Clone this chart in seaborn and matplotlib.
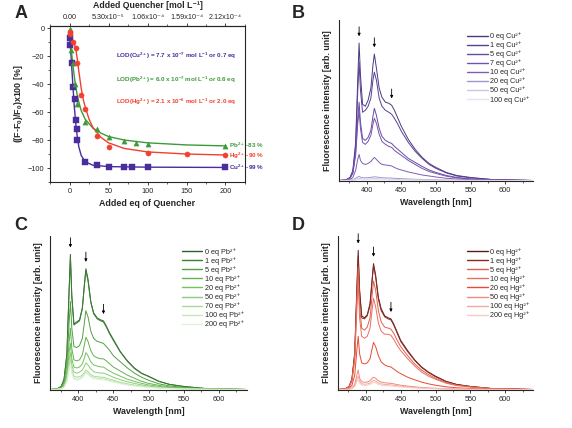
import numpy as np
import pandas as pd
import seaborn as sns
import matplotlib.pyplot as plt
from matplotlib.ticker import MultipleLocator

# ---- panel A: quenching vs added equivalents ----
cu_eq = [0, 1, 3, 5, 7, 8, 9, 10, 20, 35, 50, 70, 80, 100, 200]
cu_pct = [-12, -7, -25, -42, -51, -66, -72, -80, -96, -98, -99, -99.3, -99.3, -99.4, -99.5]
pb_eq = [0, 2, 4, 7, 10, 20, 35, 50, 70, 85, 100, 200]
pb_pct = [-1, -16, -25, -40, -54, -67, -72, -78, -81, -82, -83, -84]
hg_eq = [0, 1, 4, 8, 10, 15, 20, 35, 50, 100, 150, 200]
hg_pct = [-3, -4, -10, -14, -25, -48, -58, -77, -85, -89, -90, -90.5]

# fitted curves
cu_fit_eq = [0, 2, 4, 6, 8, 10, 12, 15, 20, 30, 50, 100, 200]
cu_fit = [-5, -20, -38, -55, -68, -78, -85, -91, -95.5, -98, -99, -99.4, -99.6]
pb_fit_eq = [0, 2, 4, 6, 8, 10, 12, 15, 20, 30, 40, 50, 70, 100, 150, 200]
pb_fit = [-3, -14, -25, -34, -42, -48, -53, -59, -65, -71.5, -75, -77.5, -80, -82, -83.5, -84.2]
hg_fit_eq = [0, 3, 6, 8, 10, 12, 15, 18, 20, 25, 30, 40, 50, 70, 100, 150, 200]
hg_fit = [-6, -8, -11, -15, -22, -31, -43, -52, -56, -65, -71, -78, -82, -86, -88.5, -90, -90.7]

top_ticks_eq = [0, 50, 100, 150, 200]
top_tick_labels = ['0.00', '5.30x10⁻⁵', '1.06x10⁻⁴', '1.59x10⁻⁴', '2.12x10⁻⁴']

# ---- spectra (B, C, D) ----
wl = [360, 370, 376, 380, 384, 387, 389, 391, 394, 398, 402, 406, 409, 411, 414, 418, 422,
      427, 432, 436, 440, 445, 450, 460, 470, 480, 490, 500, 515, 530, 550, 580, 620, 640]

cu_labels = ['0 eq Cu²⁺', '1 eq Cu²⁺', '5 eq Cu²⁺', '7 eq Cu²⁺',
             '10 eq Cu²⁺', '20 eq Cu²⁺', '50 eq Cu²⁺', '100 eq Cu²⁺']
cu_spectra = [
    [0, 0.5, 3, 10, 38, 100, 137, 105, 76, 74, 80, 92, 115, 126, 112, 92, 83, 78, 77, 75, 70, 62, 54, 41, 31, 23, 17, 13, 8, 5, 3, 1, 0.3, 0],
    [0, 0.5, 3, 9, 33, 88, 118, 90, 68, 70, 74, 82, 100, 108, 100, 82, 74, 70, 68, 66, 62, 56, 49, 38, 29, 22, 16, 12, 7.5, 4.5, 2.7, 1, 0.3, 0],
    [0, 0.4, 2.5, 8, 28, 62, 78, 58, 42, 40, 43, 50, 64, 72, 65, 52, 44, 40, 38, 37, 34, 31, 28, 22, 18, 14, 10.5, 8, 5, 3, 1.6, 0.6, 0.2, 0],
    [0, 0.4, 2.3, 7, 25, 56, 70, 52, 38, 36, 39, 45, 56, 62, 57, 46, 39, 36, 34, 33, 30, 27.5, 25, 20, 16, 12, 9, 7, 4.3, 2.6, 1.4, 0.5, 0.2, 0],
    [0, 0.2, 1, 3, 10, 21, 26, 20, 17, 16, 17, 19, 21.5, 23, 21, 18, 16, 15.5, 15, 14.5, 13, 11.5, 10.5, 8.5, 7, 5.5, 4.5, 3.5, 2.2, 1.5, 0.8, 0.3, 0.1, 0],
    [0, 0.1, 0.3, 0.8, 2, 3.5, 4.2, 3.3, 2.8, 2.7, 2.8, 3.1, 3.5, 3.7, 3.5, 3.1, 2.8, 2.6, 2.5, 2.4, 2.2, 2, 1.8, 1.5, 1.2, 1, 0.8, 0.6, 0.4, 0.3, 0.2, 0.1, 0, 0],
    [0, 0, 0.2, 0.4, 1, 1.8, 2.1, 1.7, 1.4, 1.4, 1.4, 1.6, 1.8, 1.9, 1.8, 1.6, 1.4, 1.3, 1.3, 1.2, 1.1, 1, 0.9, 0.8, 0.6, 0.5, 0.4, 0.3, 0.2, 0.15, 0.1, 0.05, 0, 0],
    [0, 0, 0.1, 0.2, 0.5, 0.9, 1.1, 0.9, 0.7, 0.7, 0.7, 0.8, 0.9, 1, 0.9, 0.8, 0.7, 0.7, 0.6, 0.6, 0.6, 0.5, 0.5, 0.4, 0.3, 0.25, 0.2, 0.15, 0.1, 0.08, 0.05, 0, 0, 0],
]
cu_colors = ['#4b3a7e', '#5a3f92', '#6a4aa5', '#7453ad', '#7e5eb5', '#a395cf', '#cdc5e6', '#e6e2f2']

pb_labels = ['0 eq Pb²⁺', '1 eq Pb²⁺', '5 eq Pb²⁺', '10 eq Pb²⁺', '20 eq Pb²⁺',
             '50 eq Pb²⁺', '70 eq Pb²⁺', '100 eq Pb²⁺', '200 eq Pb²⁺']
pb_spectra = [
    [0, 0.5, 3, 10, 35, 95, 132, 92, 64, 66, 68, 80, 104, 118, 108, 86, 75, 70, 68, 67, 62, 55, 49, 37, 28, 21, 16, 13, 8, 5, 3, 1, 0.3, 0],
    [0, 0.5, 3, 10, 34, 93, 129, 90, 63, 65, 67, 79, 102, 116, 106, 85, 74, 69, 67, 66, 61, 54, 48, 36.5, 27.5, 20.5, 15.7, 12.7, 7.8, 4.9, 2.9, 1, 0.3, 0],
    [0, 0.4, 2.3, 7, 25, 63, 86, 60, 42, 41, 43, 50, 66, 77, 71, 57, 50, 47, 46, 45, 42, 38, 33, 27, 21, 16, 12, 9, 5.5, 3.5, 2, 0.7, 0.2, 0],
    [0, 0.3, 1.7, 5, 18, 45, 60, 40, 29, 28, 29, 34, 44, 51, 47, 38, 33, 31, 30, 30, 28, 25, 22, 18, 14, 11, 8, 6, 4, 2.5, 1.4, 0.5, 0.1, 0],
    [0, 0.2, 1.3, 4, 14, 35, 45, 30, 22, 21, 22, 25, 31, 36, 33, 27, 24, 23, 22, 22, 20, 18, 16, 13, 10, 8, 6, 4.5, 3, 2, 1, 0.4, 0.1, 0],
    [0, 0.2, 1, 3, 11, 28, 36, 24, 17, 16, 17, 19, 23, 26, 24, 20, 17.5, 16.5, 16, 16, 15, 13.5, 12, 9.5, 7.5, 6, 4.5, 3.4, 2.2, 1.5, 0.8, 0.3, 0.1, 0],
    [0, 0.1, 0.8, 2.5, 9, 23, 30, 19, 13, 12, 12.5, 14, 17, 19, 17.5, 14.5, 13, 12.5, 12, 12, 11, 10, 9, 7, 5.5, 4.3, 3.3, 2.5, 1.6, 1.1, 0.6, 0.2, 0.1, 0],
    [0, 0.1, 0.7, 2.2, 8, 21, 27, 17, 11, 10, 10.5, 12.5, 15, 17, 15.5, 13, 11.5, 11, 10.5, 10.5, 9.7, 8.8, 8, 6.2, 4.8, 3.8, 2.9, 2.2, 1.4, 1, 0.5, 0.2, 0.1, 0],
    [0, 0.1, 0.6, 2, 7.5, 19, 25, 16, 10, 9, 9.5, 11.5, 14, 16, 14.5, 12, 10.5, 10, 9.5, 9.5, 8.8, 8, 7.2, 5.6, 4.4, 3.4, 2.6, 2, 1.3, 0.9, 0.5, 0.2, 0.1, 0],
]
pb_colors = ['#2f5f2a', '#3d7f35', '#52a042', '#63b14f', '#75c05f', '#8ccd78', '#a6da95', '#c4e8b7', '#def3d5']

hg_labels = ['0 eq Hg²⁺', '1 eq Hg²⁺', '5 eq Hg²⁺', '10 eq Hg²⁺',
             '20 eq Hg²⁺', '50 eq Hg²⁺', '100 eq Hg²⁺', '200 eq Hg²⁺']
hg_spectra = [
    [0, 0.5, 3, 10, 36, 98, 136, 98, 72, 70, 73, 84, 108, 123, 112, 90, 79, 72, 70, 69, 64, 56, 48, 38, 29, 22, 17, 13, 8, 5, 3, 1, 0.3, 0],
    [0, 0.5, 3, 10, 34, 94, 130, 95, 70, 69, 72, 82, 106, 121, 110, 88, 77, 71, 69, 68, 63, 55, 47, 37, 28.5, 21.5, 16.5, 12.5, 7.8, 4.9, 2.9, 1, 0.3, 0],
    [0, 0.4, 2.8, 9, 32, 88, 120, 82, 60, 58, 61, 70, 92, 106, 97, 77, 66, 61, 60, 59, 55, 48, 42, 33, 25, 19, 14.5, 11, 6.8, 4.3, 2.6, 0.9, 0.3, 0],
    [0, 0.4, 2.5, 8, 28, 77, 105, 70, 52, 50, 52, 60, 78, 89, 81, 65, 57, 54, 54, 53, 49, 43, 38, 30, 23, 17, 13, 10, 6.2, 3.9, 2.3, 0.8, 0.2, 0],
    [0, 0.2, 1.2, 4, 14, 38, 52, 35, 26, 25, 26, 30, 40, 46, 42, 33, 27, 24, 22.5, 22, 20, 17.5, 15.5, 12, 9.5, 7.2, 5.5, 4.2, 2.6, 1.7, 1, 0.4, 0.1, 0],
    [0, 0.1, 0.5, 1.5, 5, 14, 19, 11, 7.5, 7, 7.3, 8.5, 11, 12, 11, 8.5, 7.2, 6.6, 6.2, 6, 5.5, 4.8, 4.2, 3.3, 2.6, 2, 1.5, 1.2, 0.7, 0.5, 0.3, 0.1, 0, 0],
    [0, 0.1, 0.4, 1.1, 3.5, 10, 13, 8, 5.5, 5.2, 5.4, 6.3, 8, 9, 8.2, 6.4, 5.4, 5, 4.7, 4.5, 4.1, 3.6, 3.2, 2.5, 1.9, 1.5, 1.1, 0.9, 0.6, 0.4, 0.2, 0.1, 0, 0],
    [0, 0.1, 0.3, 0.8, 2.7, 7.5, 10, 6.3, 4.3, 4, 4.2, 4.9, 6.2, 7, 6.4, 5, 4.2, 3.9, 3.7, 3.5, 3.2, 2.8, 2.5, 1.9, 1.5, 1.2, 0.9, 0.7, 0.4, 0.3, 0.2, 0.1, 0, 0],
]
hg_colors = ['#5e1c18', '#8a2a22', '#e0604f', '#ea6f5c', '#e84a35', '#f08a7a', '#f4aaa0', '#f8cdc6']

arrow_wl = [389, 411, 436]

sns.set_style('ticks')
plt.rcParams['font.family'] = ['Liberation Sans', 'DejaVu Sans']
plt.rcParams['mathtext.fontset'] = 'custom'
plt.rcParams['mathtext.rm'] = 'Liberation Sans'
plt.rcParams['mathtext.bf'] = 'Liberation Sans:bold'
plt.rcParams['mathtext.default'] = 'regular'
plt.rcParams['axes.linewidth'] = 0.8

TICK = 5.3
LAB = 6.4

fig = plt.figure(figsize=(5.72, 4.28), dpi=100)


def px_axes(l, t, r, b):
    W, H = 572, 428
    return fig.add_axes([l / W, 1 - b / H, (r - l) / W, (b - t) / H])


# ---------------- A ----------------
axA = px_axes(50, 26, 245, 182)
purple, green, red = '#4a2c9c', '#3d9a3a', '#f2402e'
for xs, ys, fx, fy, c, m in [(cu_eq, cu_pct, cu_fit_eq, cu_fit, purple, 's'),
                             (pb_eq, pb_pct, pb_fit_eq, pb_fit, green, '^'),
                             (hg_eq, hg_pct, hg_fit_eq, hg_fit, red, 'o')]:
    sns.lineplot(x=fx, y=fy, ax=axA, color=c, lw=1.0, sort=False, estimator=None)
    sns.scatterplot(x=xs, y=ys, ax=axA, color=c, marker=m, s=14, edgecolor=c, linewidth=0.3, zorder=3)
axA.set_xlim(-25, 225)
axA.set_ylim(-110, 1.5)
axA.xaxis.set_major_locator(MultipleLocator(50))
axA.xaxis.set_minor_locator(MultipleLocator(25))
axA.yaxis.set_major_locator(MultipleLocator(20))
axA.yaxis.set_minor_locator(MultipleLocator(10))
axA.tick_params(which='major', length=2.5, width=0.6, labelsize=TICK, pad=1.5)
axA.tick_params(which='minor', length=1.5, width=0.5)
axA.set_xlabel('Added eq of Quencher', fontsize=LAB, fontweight='bold', labelpad=3)
axA.set_ylabel('((F-F$_\\mathbf{0}$)/F$_\\mathbf{0}$)x100 [%]', fontsize=LAB, fontweight='bold', labelpad=2)

mol_per_eq = 5.30e-5 / 50
top = axA.secondary_xaxis('top', functions=(lambda e: e * mol_per_eq, lambda m: m / mol_per_eq))
top.set_xticks([t * mol_per_eq for t in top_ticks_eq], top_tick_labels)
top.xaxis.set_minor_locator(MultipleLocator(25 * mol_per_eq))
top.tick_params(which='major', length=2.5, width=0.6, labelsize=5.2, pad=1.0)
top.tick_params(which='minor', length=1.5, width=0.5)
fig.text(147.5 / 572, 1 - 1.0 / 428, 'Added Quencher [mol L⁻¹]', fontsize=6.3,
         fontweight='bold', ha='center', va='top')

lod_font = dict(fontsize=4.5, fontweight='bold')
axA.text(60, -20, 'LOD(Cu$^{2+}$) = 7.7 x 10$^{-7}$ mol L$^{-1}$ or 0.7 eq', color=purple, va='center', **lod_font)
axA.text(60, -37, 'LOD(Pb$^{2+}$) = 6.0 x 10$^{-7}$ mol L$^{-1}$ or 0.6 eq', color=green, va='center', **lod_font)
axA.text(60, -53, 'LOD(Hg$^{2+}$) = 2.1 x 10$^{-6}$ mol L$^{-1}$ or 2.0 eq', color=red, va='center', **lod_font)
axA.text(204, pb_pct[-1], 'Pb$^{2+}$ -83 %', color=green, va='center', **lod_font)
axA.text(204, hg_pct[-1] - 1, 'Hg$^{2+}$ -90 %', color=red, va='center', **lod_font)
axA.text(204, cu_pct[-1], 'Cu$^{2+}$ -99 %', color=purple, va='center', **lod_font)


# ---------------- spectra ----------------
def spectra_panel(ax, labels, spectra, colors, ytop):
    rows = []
    for lab, vals in zip(labels, spectra):
        for w, v in zip(wl, vals):
            rows.append((w, v, lab))
    df = pd.DataFrame(rows, columns=['wl', 'I', 'label'])
    sns.lineplot(data=df, x='wl', y='I', hue='label', hue_order=labels, palette=colors,
                 ax=ax, lw=0.7, sort=False, estimator=None)
    ax.set_xlim(360, 640)
    ax.set_ylim(-0.5, ytop)
    ax.xaxis.set_minor_locator(MultipleLocator(25))
    ax.set_xticks([400, 450, 500, 550, 600])
    ax.set_yticks([])
    sns.despine(ax=ax)
    ax.tick_params(axis='x', which='major', length=2.5, width=0.6, labelsize=TICK, pad=1.5)
    ax.tick_params(axis='x', which='minor', length=1.5, width=0.5)
    ax.set_xlabel('Wavelength [nm]', fontsize=LAB, fontweight='bold', labelpad=3)
    ax.set_ylabel('Fluorescence intensity [arb. unit]', fontsize=LAB, fontweight='bold', labelpad=5)
    h, l = ax.get_legend_handles_labels()
    for hh in h:
        hh.set_linewidth(1.0)
    ax.legend(h, l, loc='upper right', bbox_to_anchor=(1.0, 0.94), frameon=False, fontsize=5.2,
              handlelength=2.8, handletextpad=0.4, labelspacing=0.18, borderaxespad=0)
    top_curve = spectra[0]
    for w in arrow_wl:
        tip = np.interp(w, wl, top_curve) + 4
        ax.annotate('', xy=(w, tip), xytext=(w, tip + 15),
                    arrowprops=dict(arrowstyle='-|>', color='k', lw=0.6, mutation_scale=4))


axB = px_axes(339, 20, 533, 181)
spectra_panel(axB, cu_labels, cu_spectra, cu_colors, 160)
axC = px_axes(50, 236, 247, 390)
spectra_panel(axC, pb_labels, pb_spectra, pb_colors, 150)
axD = px_axes(338, 236, 533, 390)
spectra_panel(axD, hg_labels, hg_spectra, hg_colors, 150)

for letter, x, y in [('A', 21, 14), ('B', 298, 14), ('C', 21, 226), ('D', 298, 226)]:
    fig.text(x / 572, 1 - y / 428, letter, fontsize=13, fontweight='bold', ha='center', va='center')

fig.savefig('out.png', dpi=100)
